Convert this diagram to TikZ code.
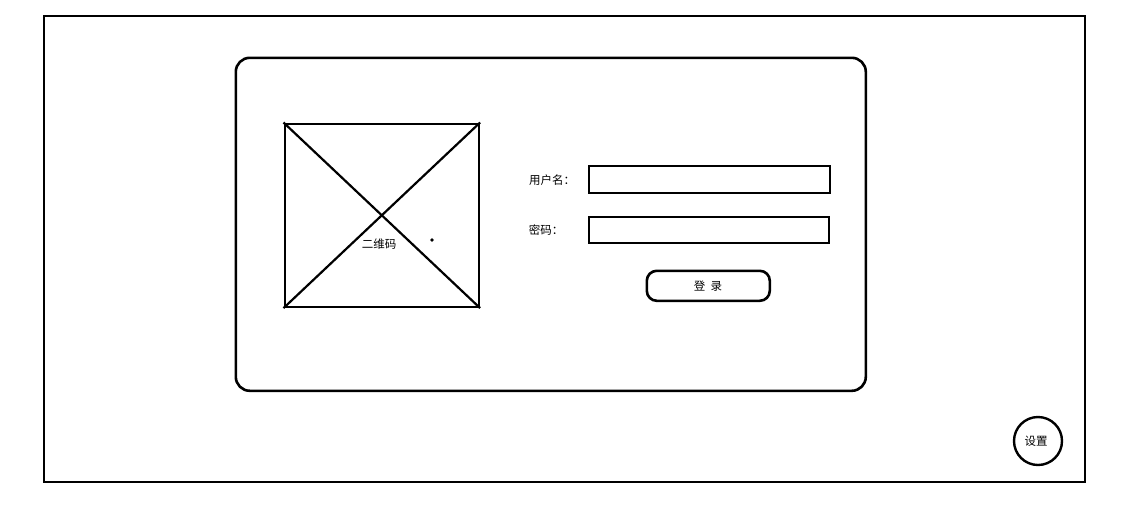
\documentclass[tikz,border=0pt]{standalone}
\usepackage{fontspec}
\newfontfamily\cjk{Noto Sans CJK SC}
\begin{document}
\begin{tikzpicture}[x=1pt,y=-1pt,
  frame/.style={draw=black,line width=2.6pt},
  lbl/.style={font=\cjk\fontsize{11.5}{13}\selectfont,inner sep=0pt},
  field/.style={draw=black,line width=2.8pt,minimum width=241pt,minimum height=27pt,anchor=north west,inner sep=0pt}]
\useasboundingbox (0,0) rectangle (1145,523);
\node[frame,minimum width=1041pt,minimum height=466pt,anchor=north west,inner sep=0pt] (outer) at (42.5,14.5) {};
\node[frame,rounded corners=14pt,minimum width=630pt,minimum height=333pt,anchor=north west,inner sep=0pt] (panel) at (234.5,56.5) {};
\node[frame,minimum width=194pt,minimum height=183pt,anchor=north west,inner sep=0pt] (qr) at (283.5,122.5) {};
\draw[line width=2.2pt] (qr.north west) -- (qr.south east);
\draw[line width=2.2pt] (qr.north east) -- (qr.south west);
\node[lbl] (qrtext) at (379,244) {二维码};
\fill (432,240) circle (1.8pt);
\node[lbl] (userlbl) at (552,180) {用户名：};
\node[lbl] (pwdlbl) at (546,230) {密码：};
\node[field] (user) at (587.5,164.5) {};
\node[field,minimum width=240pt,minimum height=26pt] (pwd) at (587.5,215.5) {};
\node[frame,rounded corners=10pt,minimum width=123pt,minimum height=30pt,anchor=north west,inner sep=0pt] (login) at (645.5,269.5) {};
\node[lbl] (logintext) at (708,286) {登\ \ 录};
\node[draw=black,line width=2.4pt,circle,minimum size=48pt,inner sep=0pt] (settings) at (1038,441) {};
\node[lbl] (settingstext) at (1036,441) {设置};
\end{tikzpicture}
\end{document}
